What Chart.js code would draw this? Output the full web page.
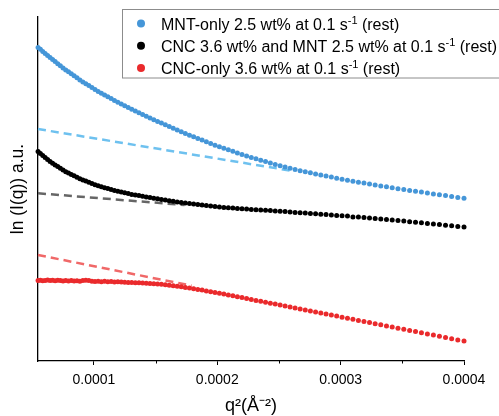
<!DOCTYPE html>
<html>
<head>
<meta charset="utf-8">
<script src="https://cdn.jsdelivr.net/npm/chart.js@4.4.1/dist/chart.umd.min.js"></script>
<style>
  html, body { margin: 0; padding: 0; background: #fff; }
  #wrap { width: 499px; height: 416px; }
</style>
</head>
<body>
<div id="wrap"><canvas id="chart" width="499" height="416"></canvas></div>
<script>
// q^2 (Å^-2) of every measured point
const qSquared = [
  5.476e-5, 5.664e-5, 5.855e-5, 6.050e-5, 6.247e-5, 6.448e-5, 6.652e-5, 6.859e-5, 7.069e-5, 7.283e-5,
  7.500e-5, 7.719e-5, 7.942e-5, 8.169e-5, 8.398e-5, 8.630e-5, 8.866e-5, 9.105e-5, 9.347e-5, 9.592e-5,
  9.841e-5, 1.0092e-4, 1.0347e-4, 1.0605e-4, 1.0866e-4, 1.1130e-4, 1.1398e-4, 1.1668e-4, 1.1942e-4, 1.2219e-4,
  1.2499e-4, 1.2783e-4, 1.3069e-4, 1.3359e-4, 1.3652e-4, 1.3948e-4, 1.4247e-4, 1.4549e-4, 1.4855e-4, 1.5163e-4,
  1.5475e-4, 1.5791e-4, 1.6109e-4, 1.6430e-4, 1.6755e-4, 1.7082e-4, 1.7413e-4, 1.7748e-4, 1.8085e-4, 1.8425e-4,
  1.8769e-4, 1.9116e-4, 1.9466e-4, 1.9819e-4, 2.0175e-4, 2.0535e-4, 2.0898e-4, 2.1264e-4, 2.1633e-4, 2.2005e-4,
  2.2380e-4, 2.2759e-4, 2.3140e-4, 2.3525e-4, 2.3914e-4, 2.4305e-4, 2.4699e-4, 2.5097e-4, 2.5498e-4, 2.5902e-4,
  2.6309e-4, 2.6719e-4, 2.7133e-4, 2.7549e-4, 2.7969e-4, 2.8392e-4, 2.8818e-4, 2.9248e-4, 2.9680e-4, 3.0116e-4,
  3.0555e-4, 3.0997e-4, 3.1442e-4, 3.1891e-4, 3.2342e-4, 3.2797e-4, 3.3255e-4, 3.3716e-4, 3.4181e-4, 3.4648e-4,
  3.5119e-4, 3.5593e-4, 3.6070e-4, 3.6550e-4, 3.7033e-4, 3.7520e-4, 3.8009e-4, 3.8502e-4, 3.8998e-4, 3.9498e-4,
  4.0000e-4
];

// ln(I(q)), arbitrary units
const mntOnly = [
  3.136, 3.117, 3.096, 3.076, 3.055, 3.034, 3.014, 2.994, 2.973, 2.953,
  2.931, 2.911, 2.892, 2.872, 2.852, 2.832, 2.811, 2.791, 2.773, 2.754,
  2.735, 2.716, 2.696, 2.678, 2.660, 2.642, 2.624, 2.605, 2.587, 2.569,
  2.553, 2.535, 2.518, 2.501, 2.483, 2.465, 2.447, 2.429, 2.412, 2.395,
  2.379, 2.362, 2.345, 2.327, 2.309, 2.292, 2.275, 2.258, 2.242, 2.226,
  2.209, 2.192, 2.175, 2.158, 2.142, 2.127, 2.112, 2.097, 2.081, 2.066,
  2.050, 2.035, 2.022, 2.008, 1.994, 1.980, 1.966, 1.953, 1.941, 1.928,
  1.915, 1.903, 1.892, 1.882, 1.871, 1.861, 1.850, 1.839, 1.828, 1.818,
  1.807, 1.797, 1.788, 1.779, 1.769, 1.760, 1.751, 1.742, 1.732, 1.723,
  1.714, 1.706, 1.697, 1.689, 1.680, 1.671, 1.663, 1.654, 1.645, 1.636,
  1.628
];
const cncMnt = [
  2.094, 2.075, 2.054, 2.034, 2.016, 1.996, 1.978, 1.961, 1.944, 1.927,
  1.909, 1.893, 1.880, 1.866, 1.852, 1.838, 1.823, 1.810, 1.799, 1.787,
  1.775, 1.763, 1.752, 1.742, 1.733, 1.724, 1.715, 1.706, 1.697, 1.689,
  1.683, 1.675, 1.666, 1.660, 1.654, 1.647, 1.641, 1.634, 1.628, 1.622,
  1.616, 1.610, 1.603, 1.597, 1.590, 1.584, 1.579, 1.574, 1.569, 1.564,
  1.559, 1.554, 1.549, 1.544, 1.540, 1.536, 1.533, 1.530, 1.526, 1.523,
  1.519, 1.516, 1.513, 1.510, 1.507, 1.506, 1.501, 1.497, 1.494, 1.490,
  1.486, 1.483, 1.481, 1.475, 1.472, 1.468, 1.464, 1.460, 1.456, 1.453,
  1.449, 1.441, 1.439, 1.434, 1.430, 1.425, 1.421, 1.415, 1.410, 1.404,
  1.399, 1.393, 1.388, 1.382, 1.376, 1.370, 1.364, 1.358, 1.352, 1.344,
  1.340
];
const cncOnly = [
  0.805, 0.808, 0.802, 0.806, 0.810, 0.804, 0.807, 0.803, 0.808, 0.805,
  0.801, 0.805, 0.799, 0.806, 0.800, 0.803, 0.798, 0.806, 0.808, 0.804,
  0.797, 0.795, 0.797, 0.793, 0.797, 0.792, 0.796, 0.790, 0.792, 0.789,
  0.788, 0.786, 0.785, 0.783, 0.782, 0.780, 0.778, 0.776, 0.773, 0.770,
  0.767, 0.763, 0.758, 0.752, 0.747, 0.742, 0.736, 0.729, 0.722, 0.716,
  0.709, 0.701, 0.693, 0.686, 0.677, 0.669, 0.661, 0.652, 0.643, 0.634,
  0.625, 0.615, 0.606, 0.597, 0.587, 0.578, 0.569, 0.559, 0.549, 0.540,
  0.530, 0.520, 0.510, 0.500, 0.490, 0.480, 0.470, 0.459, 0.449, 0.438,
  0.428, 0.417, 0.406, 0.395, 0.384, 0.373, 0.362, 0.351, 0.339, 0.328,
  0.317, 0.305, 0.294, 0.282, 0.271, 0.259, 0.247, 0.235, 0.223, 0.211,
  0.200
];

// linear (Guinier) fits, start and end
const fitMntX = [5.47e-5, 2.586e-4];
const fitMntY = [2.32, 1.905];
const fitCncMntX = [5.47e-5, 1.735e-4];
const fitCncMntY = [1.677, 1.56];
const fitCncX = [5.47e-5, 1.792e-4];
const fitCncY = [1.06, 0.753];

const xTicks = [0.0001, 0.0002, 0.0003, 0.0004];
const xMinorTicks = [0.00015, 0.00025, 0.00035];

// legend text split as [before, superscript, after]
const legendLabels = [
  ['MNT-only 2.5 wt% at 0.1 s', '-1', ' (rest)'],
  ['CNC 3.6 wt% and MNT 2.5 wt% at 0.1 s', '-1', ' (rest)'],
  ['CNC-only 3.6 wt% at 0.1 s', '-1', ' (rest)']
];
const seriesColors = ['#4596d8', '#000000', '#ea2a2c'];
const fitColors = ['#6ec1ef', '#666666', '#f06868'];

const fontFamily = '"Liberation Sans", Arial, Helvetica, sans-serif';
Chart.defaults.font.family = fontFamily;
Chart.defaults.color = '#000';

const toPoints = (xs, ys) => xs.map((x, i) => ({ x: x, y: ys[i] }));

const pointSet = (ys, i) => ({
  type: 'scatter',
  label: legendLabels[i].join(''),
  data: toPoints(qSquared, ys),
  backgroundColor: seriesColors[i],
  borderWidth: 0,
  pointRadius: 2.5,
  pointHoverRadius: 2.5,
  clip: false,
  order: 1
});

const fitSet = (xs, ys, i) => ({
  type: 'line',
  data: toPoints(xs, ys),
  borderColor: fitColors[i],
  borderWidth: 2.5,
  borderDash: [8, 5],
  pointRadius: 0,
  fill: false,
  clip: false,
  order: 2
});

// small ticks halfway between the labelled ones
const minorTickPlugin = {
  id: 'minorTicks',
  afterDraw(chart) {
    const s = chart.scales.x;
    const ctx = chart.ctx;
    ctx.save();
    ctx.strokeStyle = '#000';
    ctx.lineWidth = 1;
    xMinorTicks.forEach(v => {
      const px = Math.round(s.getPixelForValue(v)) + 0.5;
      ctx.beginPath();
      ctx.moveTo(px, s.top);
      ctx.lineTo(px, s.top + 2.5);
      ctx.stroke();
    });
    ctx.restore();
  }
};

// boxed legend with superscripts, drawn over the plot
const boxLegendPlugin = {
  id: 'boxLegend',
  afterDraw(chart) {
    const ctx = chart.ctx;
    ctx.save();
    ctx.fillStyle = '#fff';
    ctx.strokeStyle = '#8c8c8c';
    ctx.lineWidth = 1;
    ctx.fillRect(122.5, 9.5, 390, 68.5);
    ctx.strokeRect(122.5, 9.5, 390, 68.5);
    legendLabels.forEach((parts, i) => {
      const y = 23.5 + i * 22.2;
      ctx.beginPath();
      ctx.arc(141, y, 4, 0, Math.PI * 2);
      ctx.fillStyle = seriesColors[i];
      ctx.fill();
      ctx.fillStyle = '#000';
      ctx.textBaseline = 'alphabetic';
      let x = 161;
      parts.forEach((p, j) => {
        const sup = j === 1;
        ctx.font = (sup ? '11px ' : '16px ') + fontFamily;
        ctx.fillText(p, x, y + 6 - (sup ? 6 : 0));
        x += ctx.measureText(p).width;
      });
    });
    ctx.restore();
  }
};

new Chart(document.getElementById('chart'), {
  type: 'scatter',
  data: {
    datasets: [
      pointSet(mntOnly, 0),
      pointSet(cncMnt, 1),
      pointSet(cncOnly, 2),
      fitSet(fitMntX, fitMntY, 0),
      fitSet(fitCncMntX, fitCncMntY, 1),
      fitSet(fitCncX, fitCncY, 2)
    ]
  },
  options: {
    responsive: false,
    animation: false,
    layout: { padding: { top: 17, right: 35, left: 0, bottom: 0 } },
    scales: {
      x: {
        type: 'linear',
        position: 'bottom',
        min: 0.0000547,
        max: 0.0004,
        afterBuildTicks: (scale) => { scale.ticks = xTicks.map(v => ({ value: v })); },
        afterFit: (scale) => { scale.height = 55; },
        ticks: {
          callback: (v) => Number(v).toFixed(4),
          font: { size: 14 },
          color: '#000',
          padding: 7,
          maxRotation: 0,
          autoSkip: false
        },
        grid: { drawOnChartArea: false, drawTicks: true, tickLength: 4, tickColor: '#000', tickWidth: 1 },
        border: { display: true, color: '#000', width: 1.3 },
        title: { display: true, text: 'q²(Å⁻²)', font: { size: 18 }, color: '#000', padding: { top: 0, bottom: -1 } }
      },
      y: {
        type: 'linear',
        min: 0,
        max: 3.44,
        afterFit: (scale) => { scale.width = 38; },
        ticks: { display: false },
        grid: { drawOnChartArea: false, drawTicks: false },
        border: { display: true, color: '#000', width: 1.3 },
        title: { display: true, text: 'ln (I(q)) a.u.', font: { size: 17.5 }, color: '#000', padding: { top: 8, bottom: 0 } }
      }
    },
    plugins: {
      legend: { display: false },
      tooltip: { enabled: false }
    }
  },
  plugins: [minorTickPlugin, boxLegendPlugin]
});
</script>
</body>
</html>
